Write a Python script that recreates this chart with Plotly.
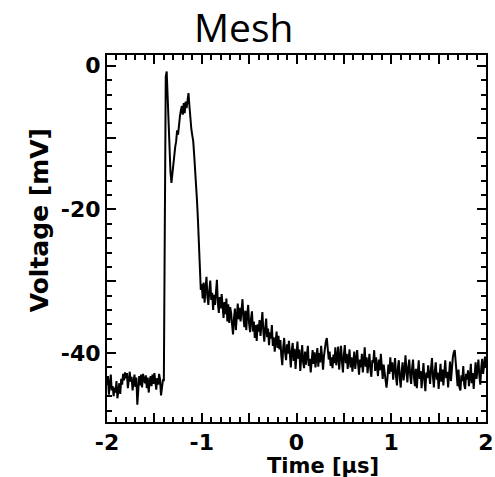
import plotly.graph_objects as go

# sampling grid
t_start_us = -2.0
t_step_us = 0.01

# baseline before the pulse: t = -2.00 .. -1.41
baseline_mV = [
    -44.5, -43.2, -45.8, -44.1, -43.0, -45.2, -44.6, -46.0, -44.8, -45.5,
    -43.9, -46.3, -45.1, -44.2, -45.7, -43.6, -44.4, -42.9, -43.8, -42.7,
    -43.5, -42.8, -44.9, -43.1, -42.6, -44.0, -43.3, -45.2, -44.1, -43.0,
    -44.7, -43.4, -47.2, -45.0, -43.2, -44.5, -43.0, -44.8, -42.9, -43.6,
    -44.2, -43.1, -44.9, -43.4, -45.5, -44.0, -43.2, -44.6, -43.0, -44.3,
    -42.8, -43.9, -45.1, -43.5, -44.4, -42.9, -43.7, -45.9, -44.2, -43.8,
]

# pulse: t = -1.40 .. -1.00
pulse_mV = [
    -43.8, -16.0, -1.5, -0.8, -4.5, -8.5, -12.0, -14.8, -16.3, -15.0,
    -13.2, -12.0, -11.3, -10.5, -9.0, -9.6, -7.8, -7.0, -6.2, -5.6,
    -6.8, -5.2, -6.6, -5.0, -5.9, -4.4, -3.8, -5.6, -7.6, -8.8,
    -9.7, -10.5, -12.4, -14.2, -16.3, -18.8, -21.5, -25.5, -29.8, -31.2,
    -30.4,
]

# decay tail: t = -0.99 .. 2.00
tail_mV = [
    -32.4, -30.2, -33.0, -31.0, -29.4, -32.2, -33.3, -31.2, -29.9, -32.6,
    -31.6, -34.0, -31.9, -33.3, -30.8, -29.8, -33.0, -34.4, -32.2, -33.8,
    -31.8, -34.2, -35.1, -32.9, -34.6, -32.4, -35.6, -33.2, -35.8, -33.6,
    -34.4, -36.0, -37.4, -35.2, -33.8, -36.8, -34.2, -33.1, -35.3, -33.7,
    -35.6, -33.6, -32.5, -35.1, -36.4, -34.1, -36.8, -34.6, -33.3, -35.9,
    -37.1, -35.2, -34.2, -37.0, -35.6, -37.9, -36.1, -38.3, -36.0, -37.0,
    -35.4, -37.6, -36.2, -34.3, -37.0, -38.4, -36.5, -35.2, -37.8, -36.6,
    -38.9, -37.1, -38.0, -36.1, -39.0, -37.8, -39.8, -38.0, -37.0, -39.3,
    -37.6, -39.5, -38.2, -40.4, -41.7, -39.2, -37.9, -40.0, -41.0, -38.8,
    -40.1, -38.3, -40.7, -42.0, -39.6, -38.6, -41.1, -39.4, -42.2, -40.0,
    -38.4, -40.8, -39.5, -42.5, -40.2, -38.9, -41.3, -42.1, -39.8, -41.6,
    -40.3, -39.0, -41.8, -40.8, -42.7, -40.5, -39.6, -41.5, -39.9, -42.0,
    -40.8, -39.3, -41.9, -40.0, -41.3, -39.0, -40.5, -42.3, -40.4, -39.0,
    -38.4, -37.9, -39.2, -40.9, -39.8, -41.8, -40.6, -42.1, -40.2, -41.4,
    -39.2, -41.7, -40.6, -39.1, -42.3, -40.4, -39.0, -41.2, -42.7, -40.2,
    -38.9, -41.4, -40.1, -42.2, -40.9, -39.5, -42.0, -40.6, -42.6, -40.7,
    -39.8, -42.2, -40.8, -39.6, -41.5, -43.0, -40.9, -42.0, -40.1, -42.7,
    -41.2, -39.2, -41.9, -40.6, -42.8, -41.3, -40.1, -42.3, -43.3, -41.0,
    -41.3, -39.6, -42.5, -40.6, -41.9, -43.2, -40.9, -42.4, -40.1, -42.1,
    -43.6, -41.6, -42.7, -43.9, -44.8, -43.5, -41.6, -42.9, -40.6, -42.6,
    -41.3, -43.7, -42.2, -40.7, -43.3, -44.5, -42.0, -41.0, -43.5, -44.8,
    -42.5, -41.3, -43.8, -42.8, -40.3, -42.7, -44.1, -42.0, -40.9, -43.1,
    -44.3, -42.1, -40.9, -43.4, -44.6, -42.2, -44.9, -42.8, -41.0, -43.6,
    -42.5, -44.9, -43.0, -41.4, -43.8, -45.3, -42.7, -43.5, -41.7, -43.1,
    -44.3, -42.1, -40.7, -43.3, -44.8, -42.4, -41.3, -43.7, -42.7, -45.0,
    -43.1, -41.5, -44.0, -42.3, -44.5, -41.8, -41.0, -43.5, -42.6, -44.8,
    -42.6, -41.2, -43.9, -41.8, -40.6, -39.9, -39.6, -41.2, -43.4, -44.6,
    -42.3, -44.8, -45.2, -43.1, -43.9, -41.8, -44.4, -45.0, -42.9, -43.7,
    -42.4, -44.6, -43.3, -41.5, -44.2, -42.8, -45.0, -42.7, -41.3, -43.6,
    -42.2, -40.9, -43.2, -44.4, -42.0, -40.8, -42.9, -41.4, -40.5, -41.8,
]

voltage_mV = baseline_mV + pulse_mV + tail_mV
time_us = [round(t_start_us + i * t_step_us, 4) for i in range(len(voltage_mV))]

x_major = [-2, -1.5, -1, -0.5, 0, 0.5, 1, 1.5, 2]
x_labels = ["-2", "", "-1", "", "0", "", "1", "", "2"]
y_major = [0, -10, -20, -30, -40]
y_labels = ["0", "", "-20", "", "-40"]

title_text = "Mesh"
x_title = "Time [µs]"
y_title = "Voltage [mV]"

fig = go.Figure()
fig.add_trace(go.Scatter(x=time_us, y=voltage_mV, mode="lines",
                         line=dict(color="black", width=2), showlegend=False))

axis_common = dict(
    showline=True, linecolor="black", linewidth=2, mirror="allticks",
    ticks="inside", ticklen=9, tickwidth=2, tickcolor="black",
    showgrid=False, zeroline=False, automargin=False,
    tickfont=dict(family="DejaVu Sans", size=22, color="black", weight="bold"),
)

fig.update_xaxes(range=[-2, 2], tickmode="array", tickvals=x_major, ticktext=x_labels,
                 minor=dict(ticks="inside", ticklen=5, tickwidth=1.5, tickcolor="black",
                            dtick=0.1, tick0=0, showgrid=False),
                 **axis_common)
fig.update_yaxes(range=[-49.6, 1.5], tickmode="array", tickvals=y_major, ticktext=y_labels,
                 minor=dict(ticks="inside", ticklen=5, tickwidth=1.5, tickcolor="black",
                            dtick=2, tick0=0, showgrid=False),
                 **axis_common)

fig.add_annotation(text=title_text, xref="paper", yref="paper", x=0.36, y=1.0,
                   xanchor="center", yanchor="bottom", yshift=0, showarrow=False,
                   font=dict(family="Open Sans", size=39, color="black"))
fig.add_annotation(text=x_title, xref="paper", yref="paper", x=0.57, y=-0.12,
                   xanchor="center", yanchor="middle", showarrow=False,
                   font=dict(family="DejaVu Sans", size=21, color="black", weight="bold"))
fig.add_annotation(text=y_title, xref="paper", yref="paper", x=-0.179, y=0.55,
                   xanchor="center", yanchor="middle", textangle=-90, showarrow=False,
                   font=dict(family="DejaVu Sans", size=25, color="black", weight="bold"))

fig.update_layout(width=495, height=477, margin=dict(l=107, r=9, t=55, b=55),
                  paper_bgcolor="white", plot_bgcolor="white")

fig.write_html("out.html")
